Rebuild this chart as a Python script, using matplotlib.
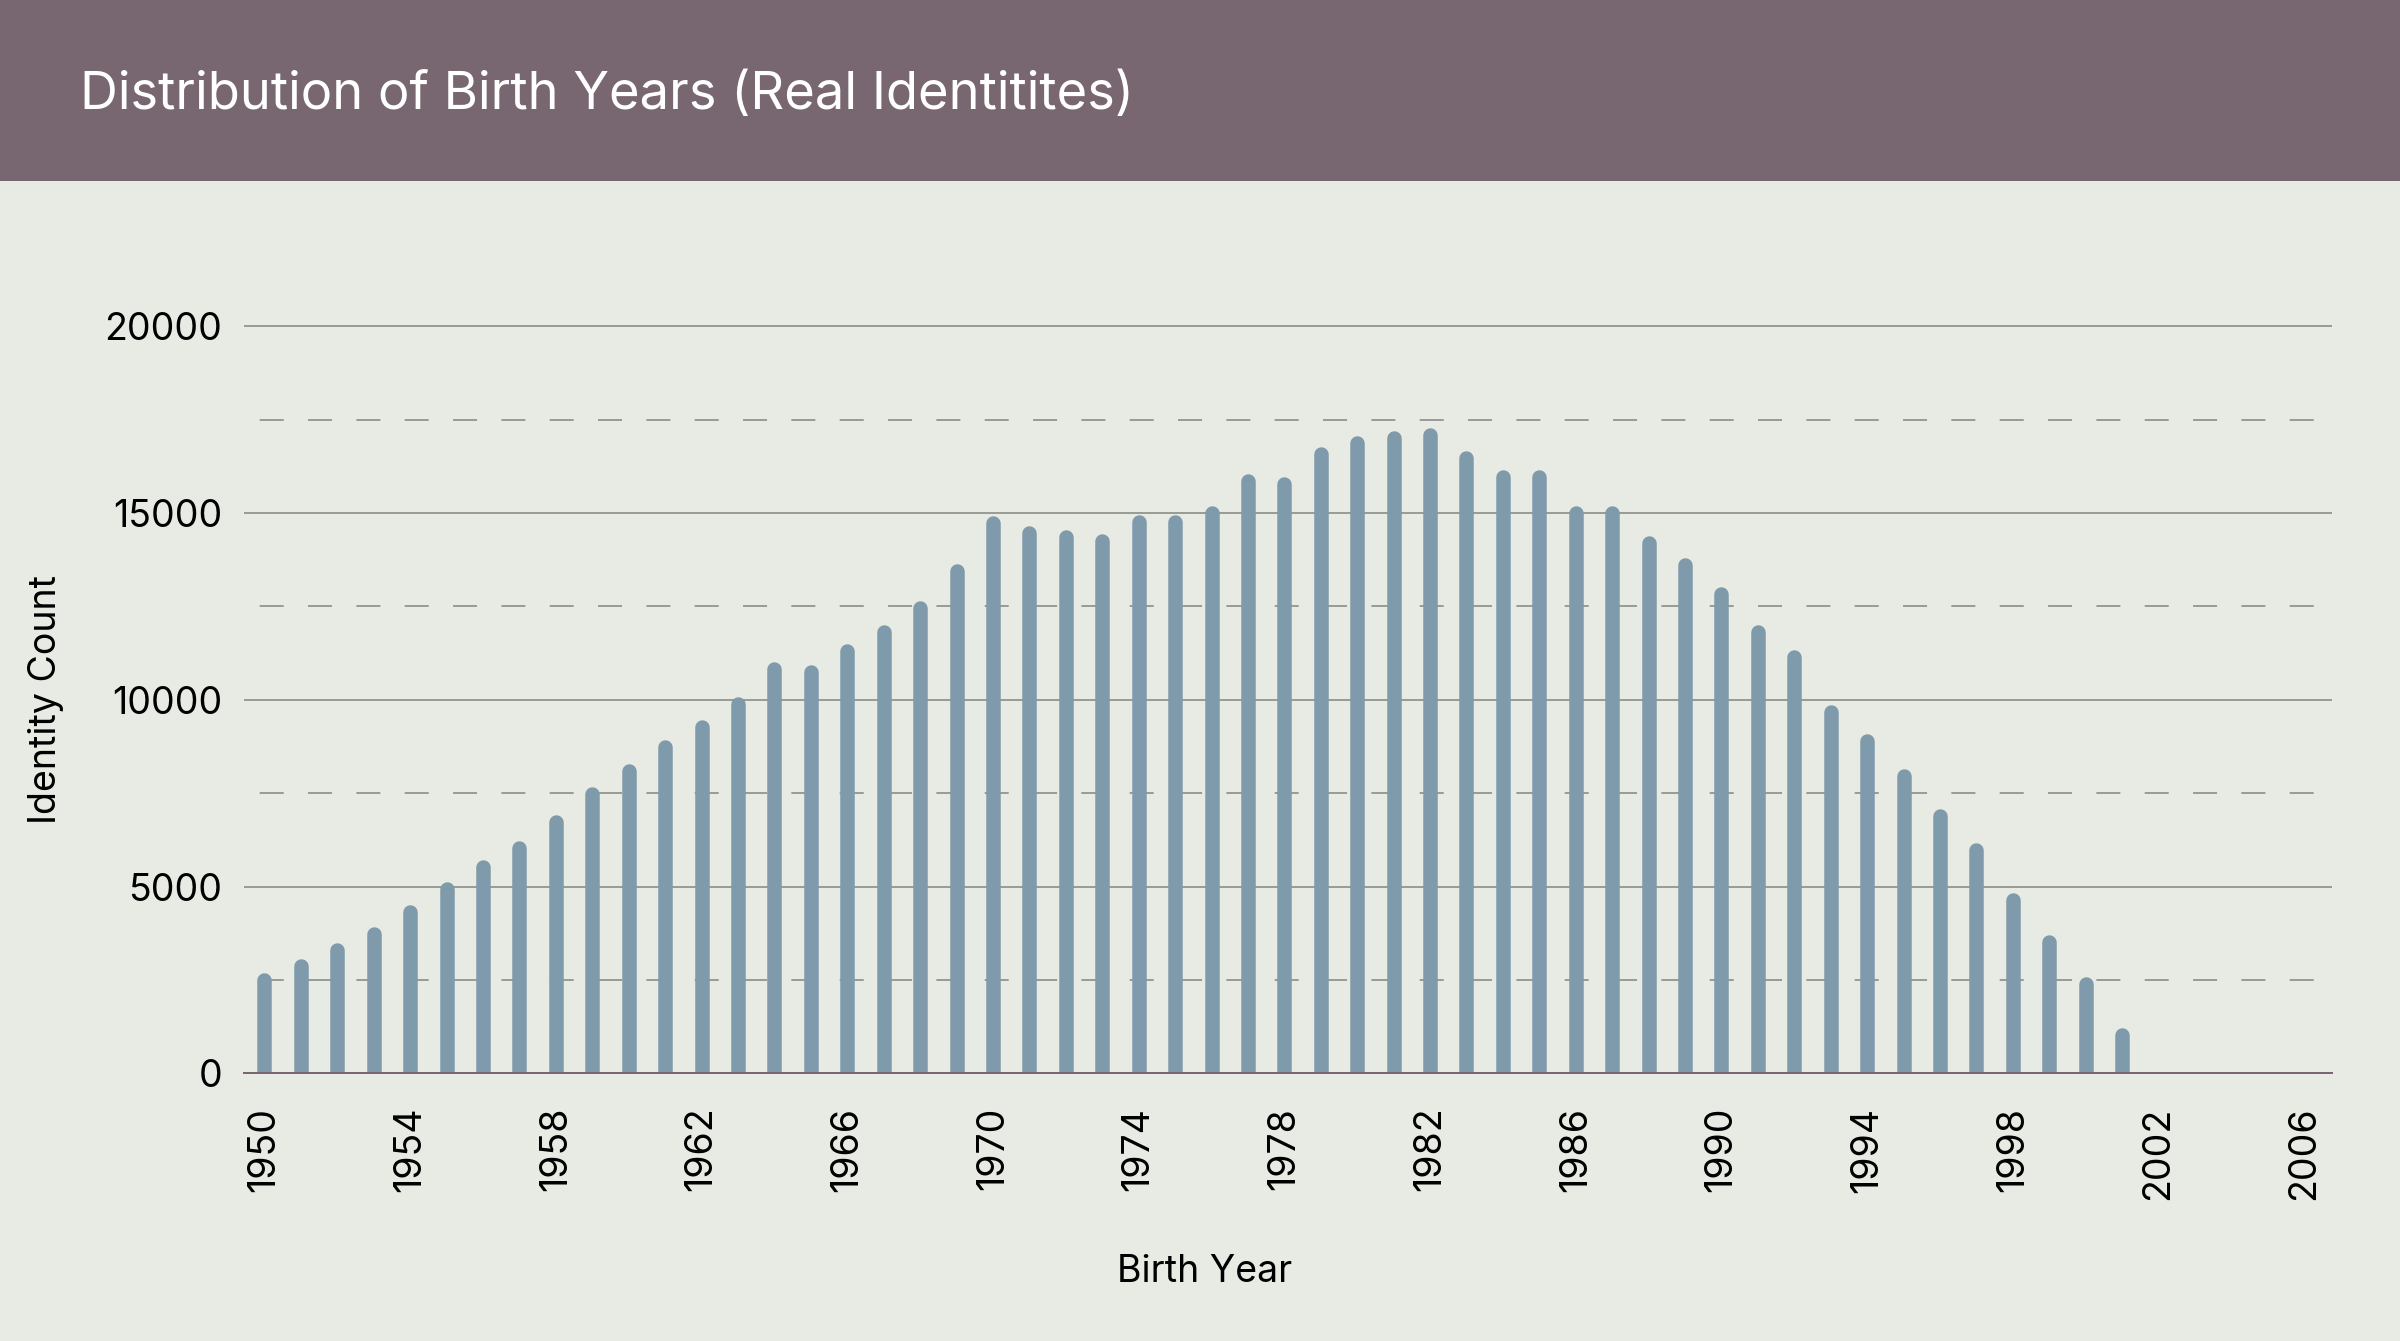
import matplotlib
matplotlib.use("Agg")
import matplotlib.pyplot as plt
from matplotlib.patches import Rectangle
from matplotlib.transforms import offset_copy

# ---- data ----
years = list(range(1950, 2002))
counts = [2700, 3060, 3500, 3930, 4520, 5120, 5730, 6220, 6930, 7680,
          8280, 8930, 9470, 10080, 11020, 10940, 11510, 12000, 12660, 13650,
          14920, 14670, 14550, 14440, 14950, 14950, 15190, 16050, 15960, 16780,
          17070, 17190, 17270, 16660, 16160, 16160, 15190, 15190, 14380, 13810,
          13030, 12000, 11350, 9880, 9100, 8150, 7090, 6180, 4840, 3720,
          2590, 1230]
x_ticks = list(range(1950, 2007, 4))
y_major = [0, 5000, 10000, 15000, 20000]
y_minor = [2500, 7500, 12500, 17500]

title = "Distribution of Birth Years (Real Identitites)"
x_label = "Birth Year"
y_label = "Identity Count"

# ---- style ----
W, H, DPI = 2400, 1341, 100
BG = "#e8ebe4"
HEADER = "#786670"
BAR = "#7f9aab"
GRID = "#9a9c96"
BASE = "#7a6670"
FONT = ["Inter", "DejaVu Sans"]
plt.rcParams["font.family"] = FONT
plt.rcParams["lines.scale_dashes"] = False

fig = plt.figure(figsize=(W / DPI, H / DPI), dpi=DPI, facecolor=BG)

# header band
hb = 181
fig.patches.append(Rectangle((0, 1 - hb / H), 1, hb / H, transform=fig.transFigure,
                             facecolor=HEADER, edgecolor="none", zorder=0))
fig.text(80 / W, 1 - 96 / H, title, color="white", fontsize=37.8,
         ha="left", va="center")

# axes geometry (pixels)
ax_l, ax_r, ax_b, ax_t = 244, 2332, 1073.4, 326.2
ax = fig.add_axes([ax_l / W, 1 - ax_b / H, (ax_r - ax_l) / W, (ax_b - ax_t) / H])
ax.set_facecolor("none")
ax.set_xlim(1949.44, 2006.76)
ax.set_ylim(0, 20000)
for s in ax.spines.values():
    s.set_visible(False)

# grid
lw_grid = 2 * 72 / DPI
ax.hlines(y_major[1:], 0, 1, transform=ax.get_yaxis_transform(), colors=GRID,
          linewidth=lw_grid, zorder=1, clip_on=False)
ax.hlines(y_minor, 0, 1, transform=ax.get_yaxis_transform(), colors=GRID,
          linewidth=lw_grid, zorder=1, clip_on=False,
          linestyles=[(23.5, (17.3, 17.5))])

# bars: rounded tops
bar_px = 14.5
r = bar_px / 2
trans = offset_copy(ax.transData, fig=fig, y=-r, units="dots")
lc = ax.vlines(years, 0, counts, colors=BAR, linewidth=bar_px * 72 / DPI,
               transform=trans, zorder=2)
lc.set_capstyle("round")

# baseline
ax.axhline(0, color=BASE, linewidth=lw_grid, zorder=3, clip_on=False)

# ticks
ax.set_yticks(y_major)
ax.set_yticklabels([str(v) for v in y_major])
ax.set_xticks(x_ticks)
ax.set_xticklabels([str(v) for v in x_ticks], rotation=90, va="top", ha="center")
ax.tick_params(axis="y", length=0, pad=15.5, labelsize=27, colors="black")
ax.tick_params(axis="x", length=0, pad=24, labelsize=27, colors="black")

fig.text(46 / W, 1 - 700 / H, y_label, rotation=90, fontsize=27,
         ha="center", va="center", color="black")
fig.text(1205 / W, 1 - 1272 / H, x_label, fontsize=27,
         ha="center", va="center", color="black")

fig.savefig("out.png", dpi=DPI, facecolor=BG)
